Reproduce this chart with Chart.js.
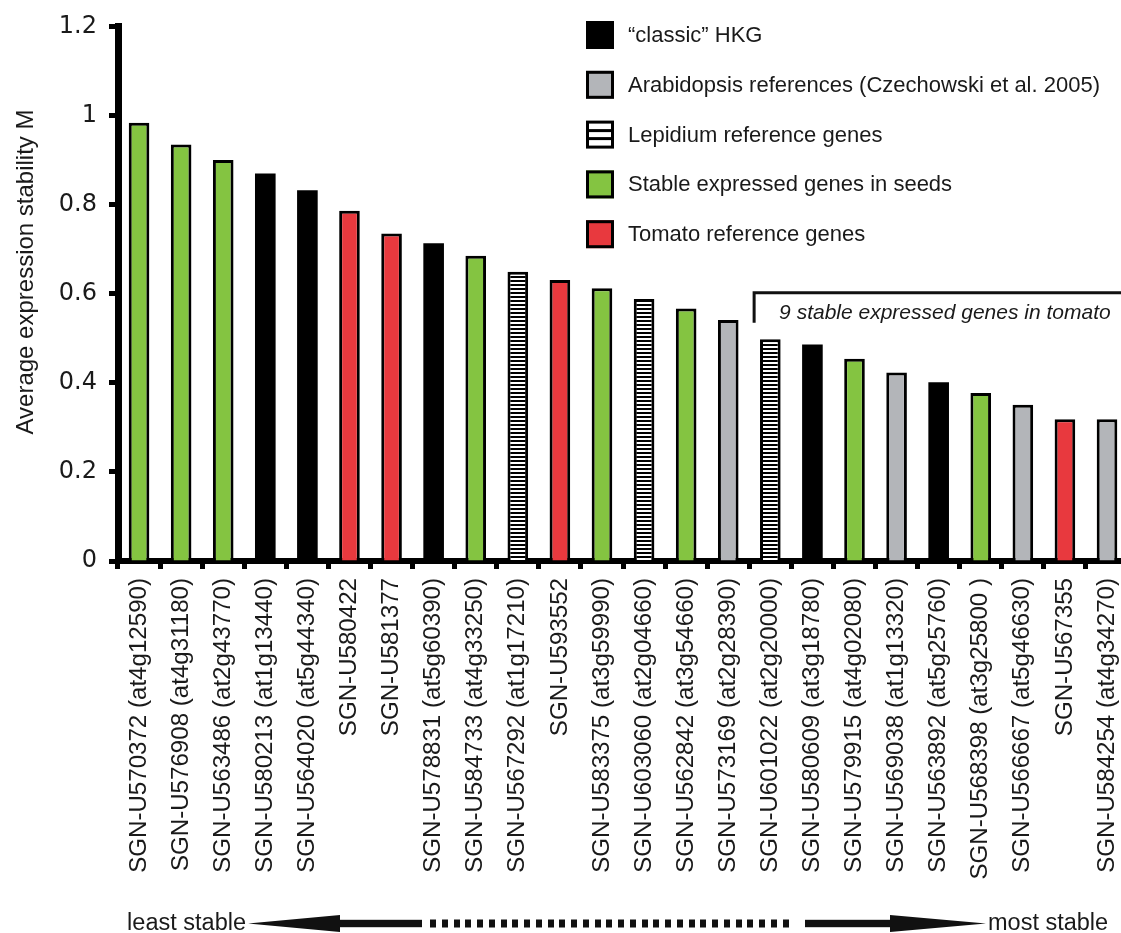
<!DOCTYPE html>
<html>
<head>
<meta charset="utf-8">
<script src="https://cdn.jsdelivr.net/npm/chart.js@4.4.1/dist/chart.umd.min.js"></script>
<style>
html, body { margin: 0; padding: 0; background: #ffffff; overflow: hidden; }
#wrap { width: 1121px; height: 933px; overflow: hidden; position: relative; background: #fff; }
canvas { display: block; }
</style>
</head>
<body>
<div id="wrap"><canvas id="c" width="1145" height="933"></canvas></div>
<script>
// ---------------- data ----------------
const categories = [
  'SGN-U570372 (at4g12590)', 'SGN-U576908 (at4g31180)', 'SGN-U563486 (at2g43770)',
  'SGN-U580213 (at1g13440)', 'SGN-U564020 (at5g44340)', 'SGN-U580422', 'SGN-U581377',
  'SGN-U578831 (at5g60390)', 'SGN-U584733 (at4g33250)', 'SGN-U567292 (at1g17210)',
  'SGN-U593552', 'SGN-U583375 (at3g59990)', 'SGN-U603060 (at2g04660)',
  'SGN-U562842 (at3g54660)', 'SGN-U573169 (at2g28390)', 'SGN-U601022 (at2g20000)',
  'SGN-U580609 (at3g18780)', 'SGN-U579915 (at4g02080)', 'SGN-U569038 (at1g13320)',
  'SGN-U563892 (at5g25760)', 'SGN-U568398 (at3g25800 )', 'SGN-U566667 (at5g46630)',
  'SGN-U567355', 'SGN-U584254 (at4g34270)'
];
const stabilityM = [
  0.984, 0.935, 0.900, 0.870, 0.832, 0.786, 0.735, 0.713, 0.685, 0.649, 0.631, 0.612,
  0.588, 0.567, 0.541, 0.498, 0.486, 0.454, 0.423, 0.401, 0.377, 0.351, 0.318, 0.318
];
const geneGroup = [
  'seed', 'seed', 'seed', 'hkg', 'hkg', 'tomato', 'tomato', 'hkg', 'seed', 'lepidium',
  'tomato', 'seed', 'lepidium', 'seed', 'arab', 'lepidium', 'hkg', 'seed', 'arab', 'hkg',
  'seed', 'arab', 'tomato', 'arab'
];
const legendKeys = ['hkg', 'arab', 'lepidium', 'seed', 'tomato'];
const legendNames = [
  '\u201Cclassic\u201D HKG',
  'Arabidopsis references (Czechowski et al. 2005)',
  'Lepidium reference genes',
  'Stable expressed genes in seeds',
  'Tomato reference genes'
];
const yTickValues = [0, 0.2, 0.4, 0.6, 0.8, 1.0, 1.2];
const yTickLabels = ['0', '0.2', '0.4', '0.6', '0.8', '1', '1.2'];
const yTitle = 'Average expression stability M';
const bracketText = '9 stable expressed genes in tomato';
const bracketFirstIndex = 15;
const bracketLevel = 0.6;
const arrowLabels = ['least stable', 'most stable'];

// ---------------- styles ----------------
const TEXT = '#1a1a1a';
const SANS = '"Liberation Sans", Arial, Helvetica, sans-serif';

function makeHatch() {
  const c = document.createElement('canvas');
  c.width = 4; c.height = 4;
  const g = c.getContext('2d');
  g.fillStyle = '#ffffff'; g.fillRect(0, 0, 4, 4);
  g.fillStyle = '#000000'; g.fillRect(0, 0, 4, 2);
  return document.createElement('canvas').getContext('2d').createPattern(c, 'repeat');
}
const hatch = makeHatch();
const groupFill = {
  hkg: '#000000',
  arab: '#b3b5b9',
  lepidium: hatch,
  seed: '#84c441',
  tomato: '#e8393e'
};

// pick x-label font so label length matches the figure
const mctx = document.createElement('canvas').getContext('2d');
mctx.font = '100px monospace';
const wMono = mctx.measureText(categories[0]).width;
mctx.font = '100px "Liberation Sans Narrow", monospace';
const wNarrow = mctx.measureText(categories[0]).width;
const narrowOK = Math.abs(wMono - wNarrow) > 1;
const xFamily = narrowOK ? '"Liberation Sans Narrow", "Liberation Sans", Arial, sans-serif' : SANS;
mctx.font = '100px ' + xFamily;
const xFontSize = Math.min(30, 295 * 100 / mctx.measureText(categories[0]).width);

const decor = {
  id: 'decor',
  afterDraw(chart) {
    const ctx = chart.ctx;
    const xs = chart.scales.x, ys = chart.scales.y;
    ctx.save();
    ctx.fillStyle = TEXT;

    // y title
    ctx.save();
    ctx.translate(33, 272);
    ctx.rotate(-Math.PI / 2);
    ctx.font = '24px ' + SANS;
    ctx.textAlign = 'center';
    ctx.textBaseline = 'alphabetic';
    ctx.fillText(yTitle, 0, 0);
    ctx.restore();

    // legend
    ctx.font = '22px ' + SANS;
    ctx.textAlign = 'left';
    ctx.textBaseline = 'middle';
    legendKeys.forEach((k, i) => {
      const cy = 35 + i * 49.8;
      const x0 = 586, y0 = cy - 14, s = 28;
      if (k === 'lepidium') {
        ctx.fillStyle = '#ffffff';
        ctx.fillRect(x0, y0, s, s);
        ctx.fillStyle = '#000';
        ctx.fillRect(x0, y0 + 8.5, s, 3);
        ctx.fillRect(x0, y0 + 16.5, s, 3);
      } else {
        ctx.fillStyle = groupFill[k];
        ctx.fillRect(x0, y0, s, s);
      }
      ctx.strokeStyle = '#000';
      ctx.lineWidth = 3;
      ctx.strokeRect(x0 + 1.5, y0 + 1.5, s - 3, s - 3);
      ctx.fillStyle = TEXT;
      ctx.fillText(legendNames[i], 628, cy + 1);
    });

    // bracket over the 9 most stable genes
    const cw = xs.getPixelForValue(1) - xs.getPixelForValue(0);
    const bx = xs.getPixelForValue(bracketFirstIndex) - 0.385 * cw;
    const by = ys.getPixelForValue(bracketLevel) - 1;
    ctx.strokeStyle = '#111';
    ctx.lineWidth = 3;
    ctx.lineCap = 'butt';
    ctx.lineJoin = 'miter';
    ctx.beginPath();
    ctx.moveTo(bx, by + 30);
    ctx.lineTo(bx, by);
    ctx.lineTo(chart.width, by);
    ctx.stroke();
    ctx.font = 'italic 21px ' + SANS;
    ctx.textBaseline = 'alphabetic';
    ctx.fillStyle = TEXT;
    ctx.fillText(bracketText, bx + 25, by + 26);

    // stability arrow
    const cy = 923.5;
    ctx.font = '23.5px ' + SANS;
    ctx.textAlign = 'right';
    ctx.fillText(arrowLabels[0], 246, 930);
    ctx.textAlign = 'left';
    ctx.fillText(arrowLabels[1], 988, 930);
    ctx.fillStyle = '#111';
    ctx.beginPath();
    ctx.moveTo(248, cy); ctx.lineTo(340, cy - 8.5); ctx.lineTo(340, cy + 8.5); ctx.closePath();
    ctx.fill();
    ctx.fillRect(340, cy - 3.7, 82, 7.4);
    for (let x = 430; x < 794; x += 11.75) ctx.fillRect(Math.round(x), cy - 4, 6, 8);
    ctx.fillRect(805, cy - 3.7, 85, 7.4);
    ctx.beginPath();
    ctx.moveTo(986, cy); ctx.lineTo(890, cy - 8.5); ctx.lineTo(890, cy + 8.5); ctx.closePath();
    ctx.fill();

    ctx.restore();
  }
};

new Chart(document.getElementById('c'), {
  type: 'bar',
  data: {
    labels: categories,
    datasets: [{
      data: stabilityM,
      backgroundColor: geneGroup.map(g => groupFill[g]),
      borderColor: '#000000',
      borderWidth: geneGroup.map(g => (g === 'hkg' ? 0 : 3)),
      borderSkipped: 'start',
      barPercentage: 0.49,
      categoryPercentage: 1.0
    }]
  },
  options: {
    responsive: false,
    animation: false,
    devicePixelRatio: 1,
    layout: { padding: { top: 25, right: 2, left: 0, bottom: 0 } },
    plugins: { legend: { display: false }, tooltip: { enabled: false }, title: { display: false } },
    scales: {
      x: {
        offset: true,
        grid: { offset: true, drawOnChartArea: false, drawTicks: true, tickLength: 8, tickWidth: 5, tickColor: '#000' },
        border: { display: true, color: '#000', width: 6 },
        ticks: {
          autoSkip: false, minRotation: 90, maxRotation: 90, padding: 9, color: TEXT,
          font: { family: xFamily, size: xFontSize }
        },
        afterFit: s => { s.height = 372; }
      },
      y: {
        min: 0, max: 1.2,
        afterBuildTicks: s => { s.ticks = yTickValues.map(v => ({ value: v })); },
        ticks: {
          callback: (v, i) => yTickLabels[i], padding: 12, color: TEXT,
          font: { family: '"DejaVu Sans", "Liberation Sans", sans-serif', size: 24 }
        },
        grid: { drawOnChartArea: false, drawTicks: true, tickLength: 9, tickWidth: 5, tickColor: '#000' },
        border: { display: true, color: '#000', width: 7 },
        afterFit: s => { s.width = 118; }
      }
    }
  },
  plugins: [decor]
});
</script>
</body>
</html>
